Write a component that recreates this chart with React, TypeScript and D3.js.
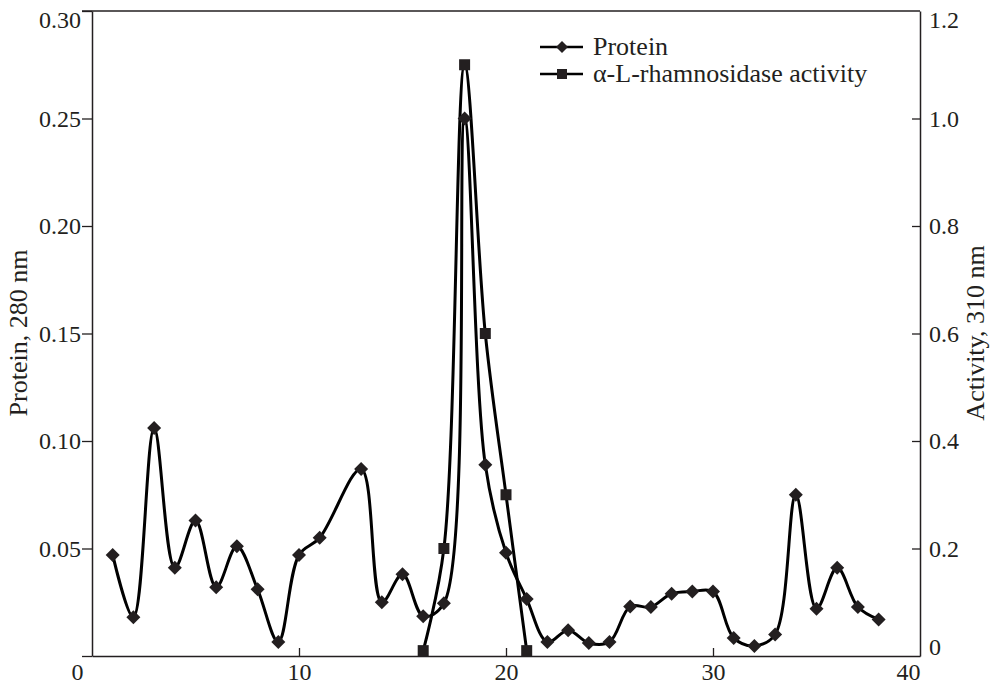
import React, { useRef, useEffect } from 'react';
import * as d3 from 'd3';

// fraction numbers and readings
const proteinFractions = [1, 2, 3, 4, 5, 6, 7, 8, 9, 10, 11, 13, 14, 15, 16, 17, 18, 19, 20, 21, 22, 23, 24, 25, 26, 27, 28, 29, 30, 31, 32, 33, 34, 35, 36, 37, 38];
const proteinValues = [0.047, 0.018, 0.106, 0.041, 0.063, 0.032, 0.051, 0.031, 0.0065, 0.047, 0.055, 0.087, 0.025, 0.038, 0.0185, 0.0245, 0.25, 0.089, 0.048, 0.0265, 0.0065, 0.012, 0.006, 0.0065, 0.023, 0.0228, 0.029, 0.030, 0.030, 0.0084, 0.0047, 0.010, 0.075, 0.022, 0.041, 0.0228, 0.017];

const activityFractions = [16, 17, 18, 19, 20, 21];
const activityValues = [0.01, 0.2, 1.1, 0.6, 0.3, 0.01];

const xTicks = [0, 10, 20, 30, 40];
const leftTicks = [0, 0.05, 0.1, 0.15, 0.2, 0.25, 0.3];
const rightTicks = [0, 0.2, 0.4, 0.6, 0.8, 1.0, 1.2];

const W = 992;
const H = 687;
const left = 92, right = 920, top = 11, bottom = 656;
const FONT = '"Liberation Serif", "DejaVu Serif", serif';
const INK = '#231f20';

const x = d3.scaleLinear().domain([0, 40]).range([left, right]);
const yL = d3.scaleLinear().domain([0, 0.3]).range([bottom, top]);
const yR = d3.scaleLinear().domain([0, 1.2]).range([bottom, top]);

const styleAxis = (g) => {
	g.selectAll('path.domain').attr('stroke', INK).attr('stroke-width', 1.5);
	g.selectAll('.tick line').attr('stroke', INK).attr('stroke-width', 1.3);
	g.selectAll('.tick text')
		.attr('fill', INK)
		.style('font-family', FONT)
		.style('font-size', '24px');
};

const Axes = () => {
	const bRef = useRef(null);
	const lRef = useRef(null);
	const rRef = useRef(null);

	useEffect(() => {
		const b = d3.select(bRef.current);
		b.call(
			d3.axisBottom(x)
				.tickValues(xTicks)
				.tickSizeInner(-8)
				.tickSizeOuter(0)
				.tickPadding(7)
				.tickFormat(d3.format('d'))
		);
		styleAxis(b);
		// no inward ticks at the ends, end labels nudged like the original
		b.selectAll('.tick line').filter((d) => d === 0 || d === 40).remove();
		b.selectAll('.tick text').filter((d) => d === 0).attr('dx', -15);
		b.selectAll('.tick text').filter((d) => d === 40).attr('dx', -12);

		const l = d3.select(lRef.current);
		l.call(
			d3.axisLeft(yL)
				.tickValues(leftTicks)
				.tickSizeInner(10)
				.tickSizeOuter(0)
				.tickPadding(1)
				.tickFormat((d) => (d === 0 ? '' : d3.format('.2f')(d)))
		);
		styleAxis(l);
		l.selectAll('.tick text').filter((d) => d === 0.3).attr('y', 9);

		const r = d3.select(rRef.current);
		r.call(
			d3.axisRight(yR)
				.tickValues(rightTicks)
				.tickSizeInner(-8)
				.tickSizeOuter(0)
				.tickPadding(9)
				.tickFormat((d) => (d === 0 ? '0' : d3.format('.1f')(d)))
		);
		styleAxis(r);
		r.selectAll('.tick line').filter((d) => d === 0 || d === 1.2).remove();
		r.selectAll('.tick text').filter((d) => d === 0).attr('y', -9);
		r.selectAll('.tick text').filter((d) => d === 1.2).attr('y', 9);
	}, []);

	return (
		<g>
			<g ref={bRef} transform={'translate(0,' + bottom + ')'} />
			<g ref={lRef} transform={'translate(' + left + ',0)'} />
			<g ref={rRef} transform={'translate(' + right + ',0)'} />
			<line x1={left - 10} x2={right} y1={top} y2={top} stroke={INK} strokeWidth={1.5} />
		</g>
	);
};

const diamond = (cx, cy, s) =>
	`M${cx},${cy - s}L${cx + s},${cy}L${cx},${cy + s}L${cx - s},${cy}Z`;

const App = () => {
	const protein = proteinFractions.map((f, i) => [f, proteinValues[i]]);
	const activity = activityFractions.map((f, i) => [f, activityValues[i]]);

	const proteinLine = d3
		.line()
		.x((d) => x(d[0]))
		.y((d) => yL(d[1]))
		.curve(d3.curveCatmullRom.alpha(0.5));
	const activityLine = d3
		.line()
		.x((d) => x(d[0]))
		.y((d) => yR(d[1]))
		.curve(d3.curveCatmullRom.alpha(0.5));

	return (
		<svg
			width={W}
			height={H}
			style={{ position: 'absolute', left: 0, top: 0, background: '#fff' }}
		>
			<Axes />

			<path d={activityLine(activity)} fill="none" stroke="#000" strokeWidth={3} />
			{activity.map((d, i) => (
				<rect
					key={'a' + i}
					x={x(d[0]) - 5.5}
					y={yR(d[1]) - 5.5}
					width={11}
					height={11}
					fill={INK}
				/>
			))}

			<path d={proteinLine(protein)} fill="none" stroke="#000" strokeWidth={3} />
			{protein.map((d, i) => (
				<path key={'p' + i} d={diamond(x(d[0]), yL(d[1]), 7)} fill={INK} />
			))}

			{/* legend */}
			<g fontFamily={FONT} fontSize={26} fill={INK}>
				<line x1={540} x2={583} y1={47} y2={47} stroke="#000" strokeWidth={2.5} />
				<path d={diamond(562, 47, 6)} fill={INK} />
				<text x={593} y={55}>Protein</text>
				<line x1={540} x2={583} y1={74} y2={74} stroke="#000" strokeWidth={2.5} />
				<rect x={557} y={69} width={10} height={10} fill={INK} />
				<text x={593} y={82}>α-L-rhamnosidase activity</text>
			</g>

			{/* axis titles */}
			<text
				transform={'translate(27,333) rotate(-90)'}
				textAnchor="middle"
				fontFamily={FONT}
				fontSize={26}
				fill={INK}
			>
				Protein, 280 nm
			</text>
			<text
				transform={'translate(984,333) rotate(-90)'}
				textAnchor="middle"
				fontFamily={FONT}
				fontSize={26}
				fill={INK}
			>
				Activity, 310 nm
			</text>
		</svg>
	);
};

export default App;
